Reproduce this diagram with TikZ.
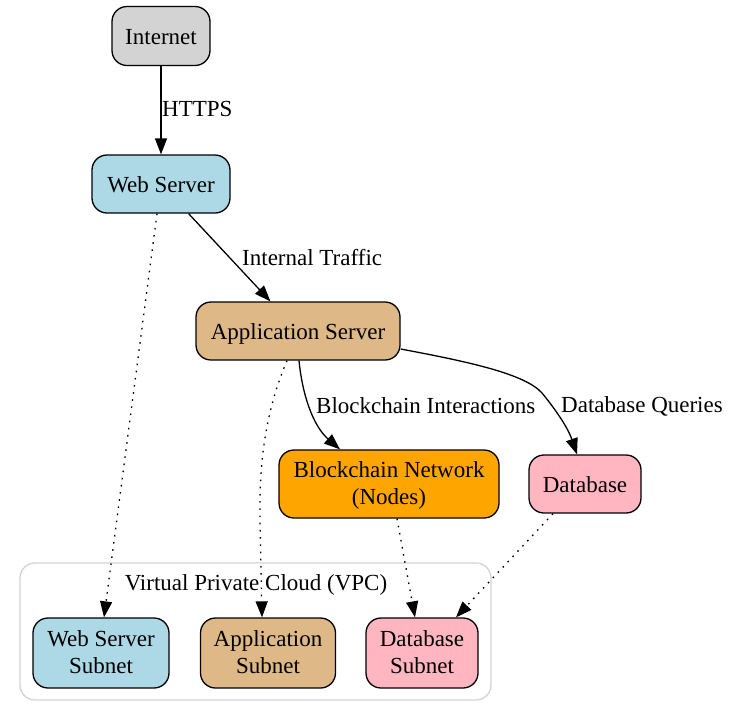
\documentclass[tikz,border=0pt]{standalone}
\usepackage{fontspec}
\setmainfont{Liberation Serif}
\usetikzlibrary{arrows.meta}
\definecolor{cgray}{HTML}{D3D3D3}
\definecolor{cblue}{HTML}{ADD8E6}
\definecolor{ctan}{HTML}{DEB887}
\definecolor{corange}{HTML}{FFA500}
\definecolor{cpink}{HTML}{FFB6C1}
\definecolor{cluster}{HTML}{D3D3D3}
\begin{document}
\begin{tikzpicture}[x=1pt,y=-1pt,
  box/.style={draw=black, line width=1.3pt, rounded corners=15pt, inner sep=0pt, align=center,
    font=\fontsize{23}{27.5}\selectfont, text height=19pt, text depth=2pt},
  box2/.style={box, text height=43pt, text depth=2pt},
  lbl/.style={font=\fontsize{23}{27.5}\selectfont, inner sep=0pt, anchor=west},
  arr/.style={line width=1.3pt, -{Triangle[length=16pt,width=12pt]}},
  dot/.style={arr, dash pattern=on 1.6pt off 5.6pt}]
\useasboundingbox (0,0) rectangle (731,721);
\draw[cluster, line width=1.3pt, rounded corners=15pt] (20,563) rectangle (491,700);
\node[font=\fontsize{23}{27.5}\selectfont, inner sep=0pt] (vpc) at (256,585) {Virtual Private Cloud (VPC)};

\node[box, fill=cgray, minimum width=98pt, minimum height=59pt] (inet) at (161,36) {Internet};
\node[box, fill=cblue, minimum width=138pt, minimum height=58pt] (web) at (161,184) {Web Server};
\node[box, fill=ctan, minimum width=204pt, minimum height=58pt] (app) at (298,331) {Application Server};
\node[box2, fill=corange, minimum width=220pt, minimum height=68pt] (bc) at (389,484) {Blockchain Network\\(Nodes)};
\node[box, fill=cpink, minimum width=112pt, minimum height=58pt] (db) at (585,484) {Database};
\node[box2, fill=cblue, minimum width=136pt, minimum height=70pt] (wss) at (101,653) {Web Server\\Subnet};
\node[box2, fill=ctan, minimum width=135pt, minimum height=70pt] (aps) at (268,653) {Application\\Subnet};
\node[box2, fill=cpink, minimum width=112pt, minimum height=70pt] (dbs) at (422,653) {Database\\Subnet};

\draw[arr] (inet) -- (web);
\node[lbl] (l1) at (162,109) {HTTPS};
\draw[arr] (web) -- (app);
\node[lbl] (l2) at (242,258) {Internal Traffic};
\draw[arr] ([xshift=1pt]app.south) .. controls (302,392) and (312,425) .. ([xshift=-49pt]bc.north);
\node[lbl] (l3) at (316,406) {Blockchain Interactions};
\draw[arr] (app.east |- 0,349) .. controls (470,362) and (525,374) .. (542,393)
  .. controls (556,410) and (568,428) .. ([xshift=-8pt]db.north);
\node[lbl] (l4) at (561,406) {Database Queries};

\draw[dot] ([xshift=-4pt]web.south) -- ([xshift=3pt]wss.north);
\draw[dot] ([xshift=-11pt]app.south) .. controls (266,410) and (259,460) .. (260,520) -- ([xshift=-6pt]aps.north);
\draw[dot] ([xshift=8pt]bc.south) -- ([xshift=-7pt]dbs.north);
\draw[dot] ([xshift=-32pt]db.south) -- ([xshift=34pt]dbs.north);
\end{tikzpicture}
\end{document}
